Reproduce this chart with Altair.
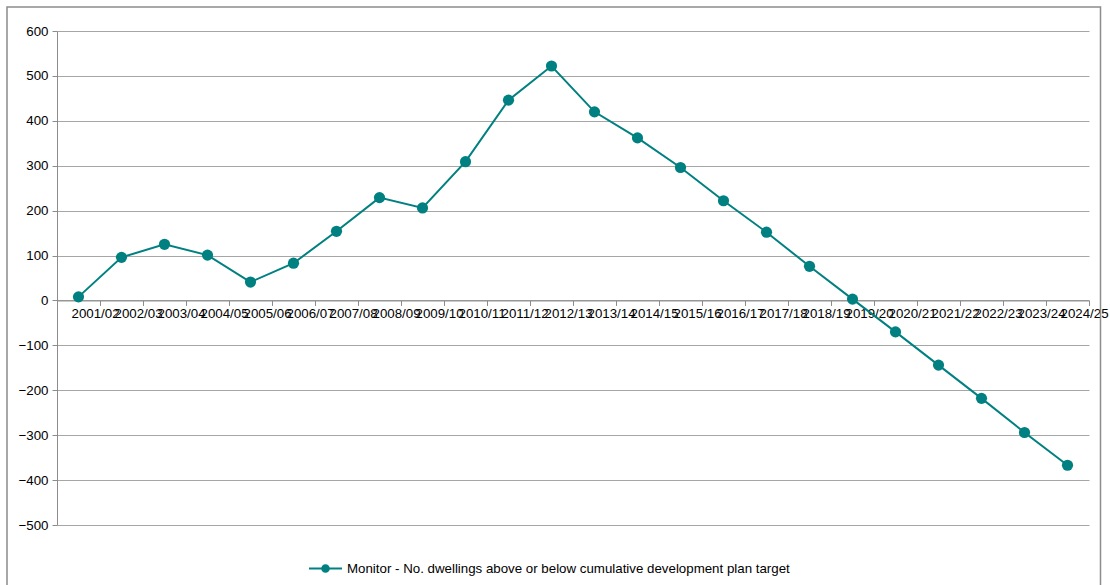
import altair as alt
import pandas as pd

years = ["2001/02", "2002/03", "2003/04", "2004/05", "2005/06", "2006/07",
         "2007/08", "2008/09", "2009/10", "2010/11", "2011/12", "2012/13",
         "2013/14", "2014/15", "2015/16", "2016/17", "2017/18", "2018/19",
         "2019/20", "2020/21", "2021/22", "2022/23", "2023/24", "2024/25"]
monitor = [8, 96, 125, 101, 41, 83, 154, 229, 206, 309, 446, 522,
           420, 362, 296, 222, 152, 76, 3, -70, -144, -218, -294, -367]
series_name = "Monitor - No. dwellings above or below cumulative development plan target"
y_ticks = list(range(-500, 601, 100))

TEAL = "#008080"
GRID = "#a6a6a6"
AXIS = "#8c8c8c"
FONT = "Liberation Sans"
FS = 13.3

df = pd.DataFrame({"year": years, "idx": list(range(len(years))),
                   "value": monitor, "series": series_name})

label_expr = "[" + ",".join(f"'{y}'" for y in years) + "][datum.value] || ''"

plot_h = 494
y_zero_px = plot_h * 600 / 1100
x_axis_offset = y_zero_px - plot_h

x_enc = alt.X(
    "pos:Q",
    scale=alt.Scale(domain=[0, len(years)], nice=False, zero=False),
    axis=alt.Axis(
        values=list(range(len(years) + 1)), labelExpr=label_expr,
        offset=x_axis_offset, tickSize=5, tickColor=AXIS, domainColor=AXIS,
        labelAlign="left", labelOffset=14, labelBaseline="top", labelPadding=1,
        labelOverlap=False, labelFlush=False, labelBound=False, grid=False,
        title=None, labelFontSize=FS, labelFont=FONT, labelColor="#000000",
        labelLimit=0,
    ),
)
y_enc = alt.Y(
    "value:Q",
    scale=alt.Scale(domain=[-500, 600], nice=False),
    axis=alt.Axis(
        values=y_ticks, grid=True, gridColor=GRID, gridWidth=1, tickSize=5,
        tickColor=AXIS, domainColor=AXIS, labelPadding=4, title=None,
        labelFontSize=FS, labelFont=FONT, labelColor="#000000",
    ),
)

base = alt.Chart(df).transform_calculate(pos="datum.idx + 0.5")

frame = alt.Chart(pd.DataFrame({"a": [0]})).mark_rect(
    fillOpacity=0, stroke="#8c8c8c", strokeWidth=1.5
).encode(
    x=alt.value(-50), x2=alt.value(1043.5), y=alt.value(-24), y2=alt.value(640)
)

line = base.mark_line(strokeWidth=2).encode(
    x=x_enc, y=y_enc,
    color=alt.Color(
        "series:N", scale=alt.Scale(range=[TEAL]),
        legend=alt.Legend(
            title=None, orient="none", legendX=251, legendY=520,
            symbolType="M-1,0L1,0M-0.2,0A0.2,0.2 0 1 1 0.2,0A0.2,0.2 0 1 1 -0.2,0",
            symbolSize=1089, symbolStrokeWidth=2, symbolFillColor=TEAL,
            labelFontSize=FS, labelFont=FONT, labelColor="#000000", labelOffset=4,
            labelLimit=0,
        ),
    ),
)
points = base.mark_circle(size=125, opacity=1, color=TEAL).encode(x=x_enc, y=y_enc)

chart = alt.layer(frame, line, points).properties(
    width=1032, height=plot_h,
    autosize=alt.AutoSizeParams(type="none"),
    padding={"left": 57, "top": 31, "right": 21, "bottom": 60},
    background="white",
).configure_view(stroke="transparent")

chart.save("out.html", embed_options={"renderer": "svg", "actions": False})
